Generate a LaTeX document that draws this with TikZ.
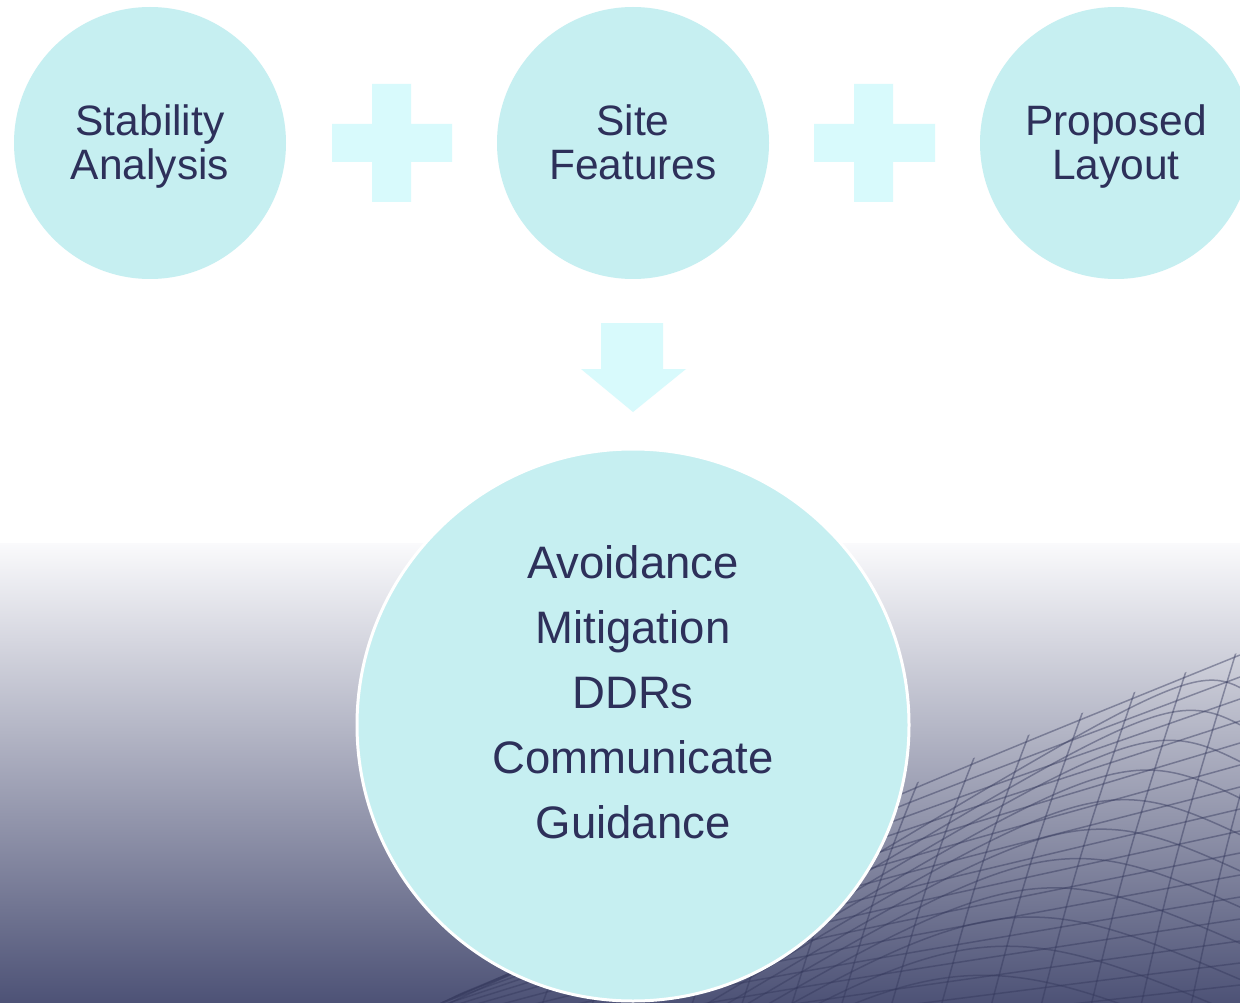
\documentclass[tikz,border=0pt]{standalone}
\usepackage{fontspec}
\setmainfont{Liberation Sans}
\definecolor{bubble}{HTML}{C6EFF1}
\definecolor{plusc}{HTML}{D8FAFC}
\definecolor{ink}{HTML}{2D305A}
\definecolor{bgtop}{HTML}{FAFAFC}
\definecolor{bgbot}{HTML}{4D5276}
\definecolor{meshc}{HTML}{34385C}
\begin{document}
\begin{tikzpicture}[x=1pt,y=-1pt,
  bub/.style={circle, fill=bubble, draw=none, minimum size=272pt, inner sep=0pt},
  bubtext/.style={text=ink, align=center, inner sep=0pt, font=\fontsize{42.5}{44}\selectfont},
  bigbub/.style={circle, fill=bubble, draw=white, line width=3pt, minimum size=552pt, inner sep=0pt},
  bigtext/.style={text=ink, align=center, font=\fontsize{45.5}{65}\selectfont, inner sep=0pt},
  plusshape/.style={fill=plusc},
  meshline/.style={draw=meshc, draw opacity=0.45, line width=1.5pt}]
\useasboundingbox (0,0) rectangle (1240,1003);
\fill[white] (0,0) rectangle (1240,1003);
\shade[top color=bgtop, bottom color=bgbot] (0,543) rectangle (1240,1003);
% mesh
\begin{scope}
  \clip (440,1003) .. controls (760,850) and (1000,740) .. (1240,652) -- (1240,1003) -- cycle;
  % ascending shallow lines
  \foreach \i in {0,...,16}
    \draw[meshline] ({450-30*\i},{1003+10*\i}) .. controls ({845-15*\i},{815+16*\i}) .. (1240,{655+22*\i});
  % steep lines
  \foreach \j in {0,...,15}
    \draw[meshline] ({540+50*\j},1010) .. controls ({600+48*\j},{850}) .. ({760+42*\j},{560});
  % arches
  \foreach \k in {0,...,12}
    \draw[meshline] ({800-30*\k},{900+30*\k}) .. controls ({1200-25*\k},{660+27*\k}) .. (1260,{700+36*\k});
\end{scope}
% bubbles
\node[bub] (stab) at (150,143) {};
\node[bub] (site) at (633,143) {};
\node[bub] (prop) at (1116,143) {};
\node[bubtext] (stabt) at (150,149) {\strut Stability\\\strut Analysis};
\node[bubtext] (sitet) at (633,149) {\strut Site\\\strut Features};
\node[bubtext] (propt) at (1116,149) {\strut Proposed\\\strut Layout};
% plus signs
\fill[plusshape] (372,84) -- (411,84) -- (411,124) -- (452,124) -- (452,162) -- (411,162) -- (411,202) -- (372,202) -- (372,162) -- (332,162) -- (332,124) -- (372,124) -- cycle;
\fill[plusshape] (854,84) -- (893,84) -- (893,124) -- (935,124) -- (935,162) -- (893,162) -- (893,202) -- (854,202) -- (854,162) -- (814,162) -- (814,124) -- (854,124) -- cycle;
% down arrow
\fill[plusshape] (601,323) -- (663,323) -- (663,369) -- (686,369) -- (633,412) -- (581,369) -- (601,369) -- cycle;
% big bubble
\node[bigbub] (res) at (633,725) {};
\node[bigtext] (restxt) at (633,692) {Avoidance\\Mitigation\\DDRs\\Communicate\\Guidance};
\end{tikzpicture}
\end{document}
